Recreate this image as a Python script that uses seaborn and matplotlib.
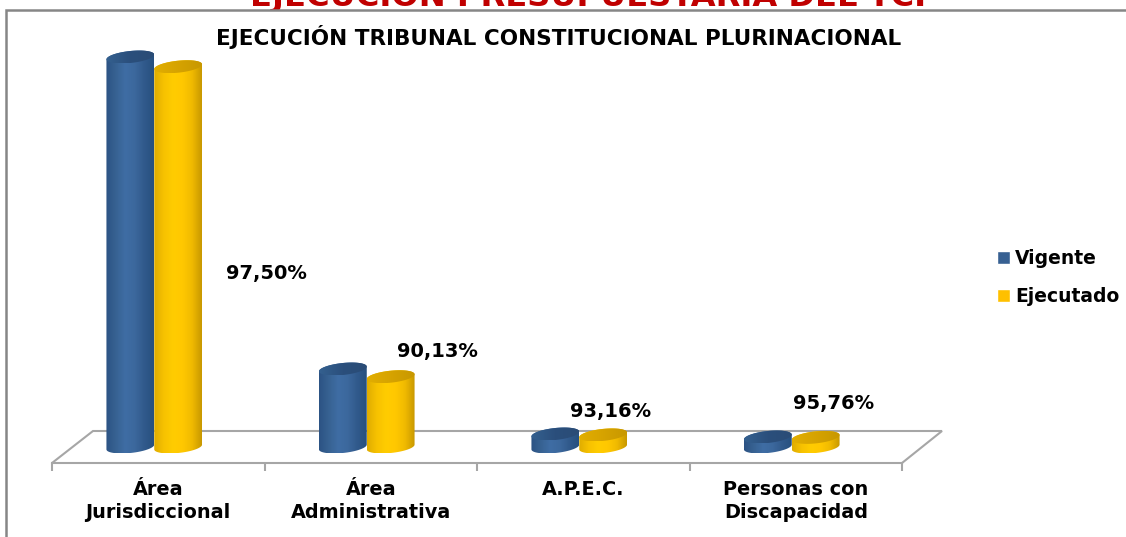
import numpy as np
import pandas as pd
import seaborn as sns
from matplotlib import pyplot as plt
from matplotlib.colors import LinearSegmentedColormap
from matplotlib.patches import Polygon, Rectangle
from matplotlib.ticker import FixedLocator

# Data ------------------------------------------------------------------------------
areas = ['Área\nJurisdiccional', 'Área\nAdministrativa', 'A.P.E.C.', 'Personas con\nDiscapacidad']
vigente = [39.0, 7.8, 1.3, 1.0]
ejecutado = [38.03, 7.03, 1.21, 0.96]
porcentajes = ['97,50%', '90,13%', '93,16%', '95,76%']
series = ['Vigente', 'Ejecutado']

# Style ------------------------------------------------------------------------------
W, H = 1126, 537
FONT = 'DejaVu Sans'
GRAY = '#a6a6a6'
colors = {'Vigente': '#376092', 'Ejecutado': '#ffc000'}
body_grad = {'Vigente': ['#2c5384', '#376292', '#3f6da4', '#3c689d', '#315a8c', '#27507f'],
             'Ejecutado': ['#e0ad00', '#f7c200', '#ffcc00', '#ffc800', '#f0ba00', '#c99900']}
cap_grad = {'Vigente': ['#34608f', '#2b4f7c', '#2a4c76'],
            'Ejecutado': ['#e2ae00', '#d6a300', '#c89800']}
label_pos = [(266, 274), (437, 351), (611, 411), (834, 403)]

df = pd.DataFrame({
    'area': areas * 2,
    'valor': vigente + ejecutado,
    'serie': [series[0]] * 4 + [series[1]] * 4,
})

sns.set_theme(style='white')
plt.rcParams['font.family'] = FONT

fig = plt.figure(figsize=(W / 100, H / 100), dpi=100, facecolor='white')


def pixel_axes(zorder):
    a = fig.add_axes([0, 0, 1, 1], zorder=zorder)
    a.set_xlim(0, W)
    a.set_ylim(H, 0)
    a.axis('off')
    a.patch.set_alpha(0)
    return a


back = pixel_axes(0)
front = pixel_axes(2)

# Frame and floor ------------------------------------------------------------------------------
back.add_patch(Rectangle((6, 10), W, H, fc='white', ec='#868686', lw=1.8, zorder=3))
back.plot([52, 93, 942, 902], [463, 431, 431, 463], color=GRAY, lw=1.5, solid_joinstyle='miter', zorder=4)

back.text(594, 6, 'EJECUCIÓN PRESUPUESTARIA DEL TCP', color='#c00000', fontsize=23.1,
          fontweight='bold', ha='center', va='baseline', clip_on=False, zorder=2)
back.text(559, 37, 'EJECUCIÓN TRIBUNAL CONSTITUCIONAL PLURINACIONAL', color='black', fontsize=15.5,
          fontweight='bold', ha='center', va='center', zorder=4)

# Bars ------------------------------------------------------------------------------
ax = fig.add_axes([52 / W, 1 - 463 / H, 850 / W, 453 / H], zorder=1)
ax.patch.set_alpha(0)
sns.barplot(data=df, x='area', y='valor', hue='serie', hue_order=series, palette=colors,
            width=0.45, gap=0, saturation=1, ax=ax)
ax.set_xlim(-0.5, 3.5)
ax.set_ylim(-1.6, 43.7)
ax.set_xlabel('')
ax.set_ylabel('')
ax.set_yticks([])
sns.despine(ax=ax, left=True)
ax.spines['bottom'].set_color(GRAY)
ax.spines['bottom'].set_linewidth(1.5)
ax.xaxis.set_minor_locator(FixedLocator(np.arange(-0.5, 4)))
ax.tick_params(axis='x', which='minor', bottom=True, length=6, width=1.5, color=GRAY)
ax.tick_params(axis='x', which='major', bottom=False, length=0, pad=12)
for tick in ax.get_xticklabels():
    tick.set_fontsize(13.9)
    tick.set_fontweight('bold')
    tick.set_color('black')
    tick.set_linespacing(1.3)

sns.move_legend(ax, 'center left', bbox_to_anchor=(980.5 / W, 1 - 277.5 / H), bbox_transform=fig.transFigure,
                title=None, frameon=False, fontsize=13.5, handlelength=0.65, handleheight=0.65,
                handletextpad=0.3, labelspacing=1.02)
for text in ax.get_legend().get_texts():
    text.set_fontweight('bold')
    text.set_color('black')


# Cylinders are built from the bars seaborn drew ------------------------------------------------
def ellipse_points(cx, cy, a, b, t):
    return np.column_stack([cx + a * np.cos(t), cy - 0.1 * a * np.cos(t) + b * np.sin(t)])


def gradient_fill(verts, x0, x1, stops, zorder):
    cmap = LinearSegmentedColormap.from_list('g', stops)
    ymin, ymax = verts[:, 1].min(), verts[:, 1].max()
    img = front.imshow(np.linspace(0, 1, 64)[None, :], cmap=cmap, aspect='auto', zorder=zorder,
                       extent=(x0, x1, ymax, ymin), interpolation='bilinear')
    shape = Polygon(verts, closed=True, transform=front.transData, fc='none', ec='none')
    front.add_patch(shape)
    img.set_clip_path(shape)


fig.canvas.draw()
bars = [p for p in ax.patches if p.get_height() > 0]
names = [series[0]] * 4 + [series[1]] * 4
flip = front.transData.inverted()
for bar, name in zip(bars, names):
    (x0, y_top) = flip.transform(ax.transData.transform((bar.get_x(), bar.get_height())))
    (x1, y_base) = flip.transform(ax.transData.transform((bar.get_x() + bar.get_width(), 0)))
    # the 3D floor pushes the columns a little to the left of the category centre
    x0, x1 = x0 - 4, x1 - 4
    cx, a, b = (x0 + x1) / 2, (x1 - x0) / 2, 6
    bar.set_visible(False)
    lower = ellipse_points(cx, y_base, a, b, np.linspace(0, np.pi, 40))
    upper = ellipse_points(cx, y_top, a, b, np.linspace(np.pi, 2 * np.pi, 40))
    z = 2 + (x0 / W)
    gradient_fill(np.vstack([lower, upper]), x0, x1, body_grad[name], z)
    cap = ellipse_points(cx, y_top, a, b, np.linspace(0, 2 * np.pi, 60))
    gradient_fill(cap, x0, x1, cap_grad[name], z + 0.001)
front.set_xlim(0, W)
front.set_ylim(H, 0)

for text, (x, y) in zip(porcentajes, label_pos):
    front.text(x, y, text, fontsize=14, fontweight='bold', color='black', ha='center', va='center', zorder=5)

fig.savefig('out.png', dpi=100)
